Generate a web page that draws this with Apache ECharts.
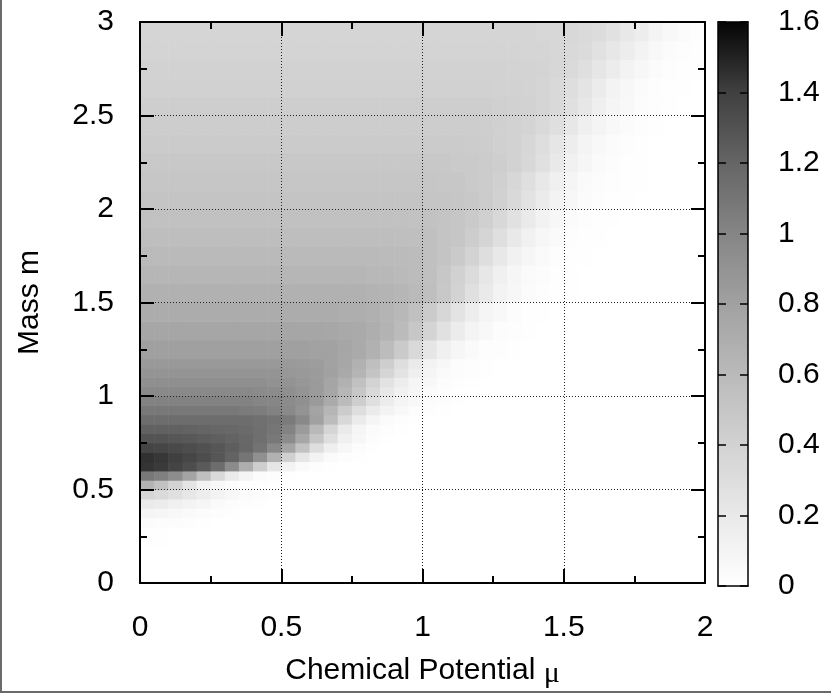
<!DOCTYPE html>
<html>
<head>
<meta charset="utf-8">
<script src="https://cdn.jsdelivr.net/npm/echarts@6/dist/echarts.min.js"></script>
<style>html,body{margin:0;padding:0;background:#fff}#c{width:831px;height:694px}</style>
</head>
<body>
<div id="c"></div>
<script>
// Chemical potential (x) cell edges, step 0.05
const muEdges = [0,0.05,0.1,0.15,0.2,0.25,0.3,0.35,0.4,0.45,0.5,0.55,0.6,0.65,0.7,0.75,0.8,0.85,0.9,0.95,
  1.0,1.05,1.1,1.15,1.2,1.25,1.3,1.35,1.4,1.45,1.5,1.55,1.6,1.65,1.7,1.75,1.8,1.85,1.9,1.95,2.0];
// Mass (y) cell edges
const massEdges = [0,0.1,0.2,0.3,0.35,0.4,0.45,0.5,0.55,0.6,0.65,0.7,0.75,0.8,0.85,0.9,0.95,1.0,1.05,1.1,1.15,1.2,
  1.3,1.4,1.5,1.6,1.7,1.8,1.9,2.0,2.1,2.2,2.3,2.4,2.5,2.6,2.7,2.8,2.9,3.0];
// Values, one row per mass cell (bottom to top), 40 entries per row (mu cells, left to right)
const orderParam = [
  [0,0,0,0,0,0,0,0,0,0, 0,0,0,0,0,0,0,0,0,0, 0,0,0,0,0,0,0,0,0,0, 0,0,0,0,0,0,0,0,0,0],
  [0,0,0,0,0,0,0,0,0,0, 0,0,0,0,0,0,0,0,0,0, 0,0,0,0,0,0,0,0,0,0, 0,0,0,0,0,0,0,0,0,0],
  [0.01,0.01,0,0,0,0,0,0,0,0, 0,0,0,0,0,0,0,0,0,0, 0,0,0,0,0,0,0,0,0,0, 0,0,0,0,0,0,0,0,0,0],
  [0.04,0.03,0.03,0.02,0.01,0,0,0,0,0, 0,0,0,0,0,0,0,0,0,0, 0,0,0,0,0,0,0,0,0,0, 0,0,0,0,0,0,0,0,0,0],
  [0.09,0.08,0.06,0.05,0.03,0.02,0.01,0,0,0, 0,0,0,0,0,0,0,0,0,0, 0,0,0,0,0,0,0,0,0,0, 0,0,0,0,0,0,0,0,0,0],
  [0.19,0.17,0.14,0.11,0.08,0.05,0.03,0.02,0.01,0, 0,0,0,0,0,0,0,0,0,0, 0,0,0,0,0,0,0,0,0,0, 0,0,0,0,0,0,0,0,0,0],
  [0.37,0.33,0.28,0.22,0.16,0.11,0.07,0.04,0.02,0.01, 0,0,0,0,0,0,0,0,0,0, 0,0,0,0,0,0,0,0,0,0, 0,0,0,0,0,0,0,0,0,0],
  [0.66,0.54,0.39,0.24,0.12,0.06,0.03,0.01,0.01,0, 0,0,0,0,0,0,0,0,0,0, 0,0,0,0,0,0,0,0,0,0, 0,0,0,0,0,0,0,0,0,0],
  [1.08,1.03,0.94,0.78,0.56,0.34,0.18,0.09,0.04,0.02, 0.01,0,0,0,0,0,0,0,0,0, 0,0,0,0,0,0,0,0,0,0, 0,0,0,0,0,0,0,0,0,0],
  [1.44,1.42,1.38,1.33,1.26,1.15,0.96,0.70,0.43,0.23, 0.11,0.05,0.02,0.01,0,0,0,0,0,0, 0,0,0,0,0,0,0,0,0,0, 0,0,0,0,0,0,0,0,0,0],
  [1.45,1.43,1.40,1.37,1.33,1.28,1.21,1.10,0.92,0.67, 0.42,0.23,0.11,0.05,0.02,0.01,0,0,0,0, 0,0,0,0,0,0,0,0,0,0, 0,0,0,0,0,0,0,0,0,0],
  [1.38,1.37,1.35,1.33,1.31,1.28,1.24,1.19,1.11,0.98, 0.78,0.53,0.30,0.15,0.07,0.03,0.01,0,0,0, 0,0,0,0,0,0,0,0,0,0, 0,0,0,0,0,0,0,0,0,0],
  [1.29,1.29,1.28,1.27,1.25,1.23,1.21,1.18,1.14,1.08, 0.95,0.75,0.50,0.29,0.14,0.07,0.03,0.01,0,0, 0,0,0,0,0,0,0,0,0,0, 0,0,0,0,0,0,0,0,0,0],
  [1.22,1.22,1.22,1.21,1.20,1.19,1.18,1.16,1.14,1.10, 1.01,0.84,0.61,0.37,0.19,0.09,0.04,0.02,0.01,0, 0,0,0,0,0,0,0,0,0,0, 0,0,0,0,0,0,0,0,0,0],
  [1.15,1.15,1.15,1.15,1.15,1.15,1.15,1.15,1.13,1.11, 1.06,0.97,0.80,0.58,0.35,0.18,0.09,0.04,0.02,0.01, 0,0,0,0,0,0,0,0,0,0, 0,0,0,0,0,0,0,0,0,0],
  [1.08,1.08,1.08,1.08,1.08,1.08,1.08,1.06,1.05,1.02, 0.97,0.90,0.78,0.63,0.45,0.30,0.18,0.11,0.06,0.03, 0.02,0.01,0,0,0,0,0,0,0,0, 0,0,0,0,0,0,0,0,0,0],
  [1.02,1.02,1.02,1.02,1.02,1.02,1.02,1.02,1.00,0.99, 0.96,0.92,0.85,0.73,0.59,0.43,0.29,0.17,0.10,0.06, 0.03,0.02,0.01,0,0,0,0,0,0,0, 0,0,0,0,0,0,0,0,0,0],
  [0.97,0.97,0.97,0.97,0.97,0.97,0.97,0.97,0.96,0.95, 0.93,0.89,0.84,0.76,0.63,0.49,0.34,0.21,0.13,0.08, 0.04,0.02,0.01,0,0,0,0,0,0,0, 0,0,0,0,0,0,0,0,0,0],
  [0.93,0.93,0.93,0.93,0.93,0.93,0.93,0.93,0.93,0.91, 0.90,0.87,0.84,0.77,0.67,0.54,0.39,0.26,0.16,0.09, 0.06,0.03,0.02,0.01,0,0,0,0,0,0, 0,0,0,0,0,0,0,0,0,0],
  [0.89,0.89,0.89,0.89,0.89,0.89,0.89,0.89,0.89,0.89, 0.87,0.86,0.84,0.80,0.74,0.64,0.52,0.37,0.25,0.15, 0.09,0.05,0.03,0.02,0.01,0,0,0,0,0, 0,0,0,0,0,0,0,0,0,0],
  [0.86,0.86,0.86,0.86,0.86,0.86,0.86,0.86,0.86,0.86, 0.85,0.84,0.83,0.79,0.75,0.67,0.56,0.43,0.30,0.19, 0.11,0.07,0.03,0.02,0.01,0,0,0,0,0, 0,0,0,0,0,0,0,0,0,0],
  [0.81,0.81,0.81,0.81,0.81,0.81,0.81,0.81,0.81,0.81, 0.81,0.81,0.79,0.79,0.76,0.73,0.67,0.58,0.47,0.34, 0.23,0.14,0.08,0.05,0.02,0.02,0.01,0,0,0, 0,0,0,0,0,0,0,0,0,0],
  [0.76,0.76,0.76,0.76,0.76,0.76,0.76,0.76,0.76,0.76, 0.76,0.76,0.76,0.75,0.74,0.73,0.70,0.66,0.59,0.49, 0.38,0.27,0.17,0.10,0.06,0.03,0.02,0.01,0,0, 0,0,0,0,0,0,0,0,0,0],
  [0.71,0.71,0.71,0.71,0.71,0.71,0.71,0.71,0.71,0.71, 0.71,0.71,0.71,0.71,0.70,0.70,0.68,0.65,0.62,0.55, 0.46,0.36,0.25,0.16,0.09,0.06,0.03,0.01,0.01,0, 0,0,0,0,0,0,0,0,0,0],
  [0.67,0.67,0.67,0.67,0.67,0.67,0.67,0.67,0.67,0.67, 0.67,0.67,0.67,0.67,0.67,0.67,0.66,0.65,0.63,0.60, 0.56,0.48,0.39,0.28,0.19,0.11,0.07,0.04,0.02,0.01, 0.01,0,0,0,0,0,0,0,0,0],
  [0.63,0.63,0.63,0.63,0.63,0.63,0.63,0.63,0.63,0.63, 0.63,0.63,0.63,0.63,0.63,0.63,0.62,0.62,0.60,0.58, 0.55,0.49,0.41,0.32,0.22,0.14,0.08,0.05,0.03,0.01, 0.01,0,0,0,0,0,0,0,0,0],
  [0.60,0.60,0.60,0.60,0.60,0.60,0.60,0.60,0.60,0.60, 0.60,0.60,0.60,0.60,0.60,0.60,0.60,0.59,0.59,0.58, 0.55,0.52,0.47,0.39,0.30,0.21,0.13,0.08,0.05,0.02, 0.01,0.01,0,0,0,0,0,0,0,0],
  [0.57,0.57,0.57,0.57,0.57,0.57,0.57,0.57,0.57,0.57, 0.57,0.57,0.57,0.57,0.57,0.57,0.57,0.57,0.56,0.56, 0.55,0.52,0.50,0.44,0.37,0.29,0.20,0.13,0.07,0.05, 0.02,0.01,0.01,0,0,0,0,0,0,0],
  [0.54,0.54,0.54,0.54,0.54,0.54,0.54,0.54,0.54,0.54, 0.54,0.54,0.54,0.54,0.54,0.54,0.54,0.54,0.54,0.53, 0.53,0.52,0.50,0.47,0.42,0.35,0.27,0.19,0.12,0.07, 0.04,0.02,0.01,0.01,0,0,0,0,0,0],
  [0.52,0.52,0.52,0.52,0.52,0.52,0.52,0.52,0.52,0.52, 0.52,0.52,0.52,0.52,0.52,0.52,0.52,0.52,0.52,0.52, 0.51,0.51,0.50,0.48,0.45,0.41,0.34,0.26,0.18,0.11, 0.07,0.04,0.02,0.01,0.01,0,0,0,0,0],
  [0.50,0.50,0.50,0.50,0.50,0.50,0.50,0.50,0.50,0.50, 0.50,0.50,0.50,0.50,0.50,0.50,0.50,0.50,0.50,0.50, 0.50,0.49,0.49,0.47,0.45,0.42,0.36,0.29,0.21,0.14, 0.09,0.05,0.03,0.02,0.01,0.01,0,0,0,0],
  [0.48,0.48,0.48,0.48,0.48,0.48,0.48,0.48,0.48,0.48, 0.48,0.48,0.48,0.48,0.48,0.48,0.48,0.48,0.48,0.48, 0.48,0.48,0.47,0.47,0.45,0.43,0.40,0.35,0.28,0.20, 0.13,0.08,0.05,0.03,0.01,0.01,0,0,0,0],
  [0.46,0.46,0.46,0.46,0.46,0.46,0.46,0.46,0.46,0.46, 0.46,0.46,0.46,0.46,0.46,0.46,0.46,0.46,0.46,0.46, 0.46,0.46,0.46,0.45,0.44,0.42,0.40,0.36,0.30,0.23, 0.16,0.10,0.06,0.04,0.02,0.01,0,0,0,0],
  [0.44,0.44,0.44,0.44,0.44,0.44,0.44,0.44,0.44,0.44, 0.44,0.44,0.44,0.44,0.44,0.44,0.44,0.44,0.44,0.44, 0.44,0.44,0.44,0.44,0.43,0.42,0.40,0.38,0.34,0.29, 0.22,0.15,0.10,0.06,0.04,0.02,0.01,0,0,0],
  [0.43,0.43,0.43,0.43,0.43,0.43,0.43,0.43,0.43,0.43, 0.43,0.43,0.43,0.43,0.43,0.43,0.43,0.43,0.43,0.43, 0.43,0.43,0.43,0.43,0.43,0.42,0.41,0.40,0.37,0.34, 0.28,0.22,0.15,0.09,0.06,0.03,0.02,0.01,0,0],
  [0.41,0.41,0.41,0.41,0.41,0.41,0.41,0.41,0.41,0.41, 0.41,0.41,0.41,0.41,0.41,0.41,0.41,0.41,0.41,0.41, 0.41,0.41,0.41,0.41,0.41,0.40,0.40,0.39,0.37,0.34, 0.30,0.24,0.17,0.11,0.07,0.04,0.02,0.01,0.01,0],
  [0.40,0.40,0.40,0.40,0.40,0.40,0.40,0.40,0.40,0.40, 0.40,0.40,0.40,0.40,0.40,0.40,0.40,0.40,0.40,0.40, 0.40,0.40,0.40,0.40,0.40,0.40,0.39,0.39,0.38,0.36, 0.33,0.29,0.23,0.17,0.11,0.07,0.04,0.02,0.01,0.01],
  [0.38,0.38,0.38,0.38,0.38,0.38,0.38,0.38,0.38,0.38, 0.38,0.38,0.38,0.38,0.38,0.38,0.38,0.38,0.38,0.38, 0.38,0.38,0.38,0.38,0.38,0.38,0.38,0.37,0.37,0.36, 0.34,0.32,0.27,0.22,0.16,0.11,0.06,0.04,0.02,0.01],
  [0.37,0.37,0.37,0.37,0.37,0.37,0.37,0.37,0.37,0.37, 0.37,0.37,0.37,0.37,0.37,0.37,0.37,0.37,0.37,0.37, 0.37,0.37,0.37,0.37,0.37,0.37,0.37,0.37,0.36,0.36, 0.35,0.33,0.31,0.27,0.21,0.16,0.10,0.06,0.04,0.02]
];
// Axis ranges / tick spacing
const xRange = [0, 2], xStep = 0.5;
const yRange = [0, 3], yStep = 0.5;
const cbRange = [0, 1.6], cbStep = 0.2;
const grayPalette = ['#ffffff','#e9e9e9','#d2d2d2','#bababa','#a1a1a1','#858585','#656565','#404040','#050505'];

const cells = [];
for (let j = 0; j < massEdges.length - 1; j++) {
  for (let i = 0; i < muEdges.length - 1; i++) {
    cells.push([muEdges[i], muEdges[i + 1], massEdges[j], massEdges[j + 1], orderParam[j][i]]);
  }
}

const FONT = '"Liberation Sans", Arial, Helvetica, sans-serif';
const FS = 30;
const black = '#000';

function mainAxis(pos, showLabels, extra) {
  return Object.assign({
    type: 'value', position: pos, z: 6,
    axisLine: { show: true, onZero: false, lineStyle: { color: black, width: 2 } },
    axisTick: { show: true, inside: true, length: 14, lineStyle: { color: black, width: 2 } },
    minorTick: { show: true, splitNumber: 2, length: 7, lineStyle: { color: black, width: 2 } },
    axisLabel: { show: showLabels, fontSize: FS, color: black, fontFamily: FONT },
    splitLine: { show: false }
  }, extra);
}

const chart = echarts.init(document.getElementById('c'), null, { renderer: 'canvas' });
chart.setOption({
  animation: false,
  backgroundColor: '#ffffff',
  textStyle: { fontFamily: FONT },
  grid: [
    { left: 140, top: 22, width: 565, height: 564 },
    { left: 718, top: 22, width: 30, height: 564 }
  ],
  xAxis: [
    mainAxis('bottom', true, {
      gridIndex: 0, min: xRange[0], max: xRange[1], interval: xStep,
      axisLabel: { show: true, fontSize: FS, color: black, fontFamily: FONT, margin: 30 },
      splitLine: { show: true, lineStyle: { color: '#222', width: 1, type: [1, 2] } },
      name: '{a|Chemical Potential }{b|μ}', nameLocation: 'middle', nameGap: 70,
      nameTextStyle: { rich: { a: { fontSize: FS, color: black, fontFamily: FONT }, b: { fontSize: FS, color: black, fontFamily: '"Liberation Serif", serif', padding: [6, 0, 0, 0] } } }
    }),
    mainAxis('top', false, { gridIndex: 0, min: xRange[0], max: xRange[1], interval: xStep }),
    { gridIndex: 1, type: 'value', position: 'bottom', min: 0, max: 1, z: 10,
      axisLine: { show: true, onZero: false, lineStyle: { color: black, width: 1.5 } },
      axisTick: { show: false }, axisLabel: { show: false }, splitLine: { show: false } },
    { gridIndex: 1, type: 'value', position: 'top', min: 0, max: 1, z: 10,
      axisLine: { show: true, onZero: false, lineStyle: { color: black, width: 1.5 } },
      axisTick: { show: false }, axisLabel: { show: false }, splitLine: { show: false } }
  ],
  yAxis: [
    mainAxis('left', true, {
      gridIndex: 0, min: yRange[0], max: yRange[1], interval: yStep,
      axisLabel: { show: true, fontSize: FS, color: black, fontFamily: FONT, margin: 26 },
      splitLine: { show: true, lineStyle: { color: '#222', width: 1, type: [1, 2] } },
      name: 'Mass m', nameLocation: 'middle', nameGap: 95,
      nameTextStyle: { fontSize: FS, color: black, fontFamily: FONT }
    }),
    mainAxis('right', false, { gridIndex: 0, min: yRange[0], max: yRange[1], interval: yStep }),
    { gridIndex: 1, type: 'value', position: 'left', min: cbRange[0], max: cbRange[1], interval: cbStep, z: 10,
      axisLine: { show: true, onZero: false, lineStyle: { color: black, width: 1.5 } },
      axisTick: { show: true, inside: true, length: 8, lineStyle: { color: black, width: 1.5 } },
      axisLabel: { show: false }, splitLine: { show: false } },
    { gridIndex: 1, type: 'value', position: 'right', min: cbRange[0], max: cbRange[1], interval: cbStep, z: 10,
      axisLine: { show: true, onZero: false, lineStyle: { color: black, width: 1.5 } },
      axisTick: { show: true, inside: true, length: 8, lineStyle: { color: black, width: 1.5 } },
      axisLabel: { show: true, fontSize: FS, color: black, fontFamily: FONT, margin: 30 },
      splitLine: { show: false } }
  ],
  visualMap: {
    type: 'continuous', min: cbRange[0], max: cbRange[1], dimension: 4, seriesIndex: 0,
    calculable: false, hoverLink: false, left: 718, top: 22, padding: 0,
    itemWidth: 30, itemHeight: 564, text: null,
    inRange: { color: grayPalette }
  },
  graphic: [
    { type: 'line', shape: { x1: 1, y1: 0, x2: 1, y2: 693 }, style: { stroke: '#6a6a6a', lineWidth: 2 }, z: 100 },
    { type: 'line', shape: { x1: 0, y1: 692, x2: 831, y2: 692 }, style: { stroke: '#6a6a6a', lineWidth: 2 }, z: 100 }
  ],
  series: [{
    type: 'custom', xAxisIndex: 0, yAxisIndex: 0, data: cells, silent: true, z: 2,
    encode: { x: [0, 1], y: [2, 3] },
    renderItem: function (params, api) {
      const a = api.coord([api.value(0), api.value(3)]);
      const b = api.coord([api.value(1), api.value(2)]);
      return {
        type: 'rect',
        shape: { x: a[0], y: a[1], width: b[0] - a[0] + 0.6, height: b[1] - a[1] + 0.6 },
        style: { fill: api.visual('color'), stroke: null }
      };
    }
  }]
});
</script>
</body>
</html>
